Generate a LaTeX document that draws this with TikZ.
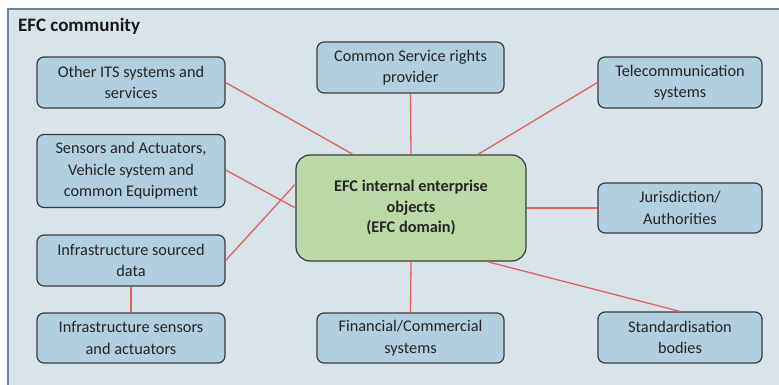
\documentclass[tikz,border=0pt]{standalone}
\usepackage{fontspec}
\setmainfont{Carlito}
\definecolor{bgc}{HTML}{D8E4EA}
\definecolor{boxc}{HTML}{B2CEDF}
\definecolor{ctrc}{HTML}{BBD8A6}
\definecolor{edgec}{HTML}{3A3A3A}
\definecolor{linec}{HTML}{E06462}
\definecolor{framec}{HTML}{6E80A6}
\tikzset{
  ext/.style={draw=edgec, line width=1.2pt, fill=boxc, rounded corners=7pt, align=center, inner sep=0pt, font=\fontsize{16.3}{21.5}\selectfont, text=black!85},
  ctr/.style={draw=edgec, line width=1.2pt, fill=ctrc, rounded corners=14pt, align=center, inner sep=0pt, font=\bfseries\fontsize{16.3}{20.5}\selectfont, text=black!85},
  conn/.style={draw=linec, line width=1.3pt}
}
\begin{document}
\begin{tikzpicture}[x=1pt,y=-1pt]
\useasboundingbox (0,0) rectangle (779,385);
\clip (0,0) rectangle (779,385);
\fill[white] (0,0) rectangle (779,385);
\draw[framec, fill=bgc, line width=1.2pt] (8,9) rectangle (800,400);
\node[anchor=base west, inner sep=0pt, font=\bfseries\fontsize{19}{21}\selectfont, text=black!90] (title) at (18,32) {EFC community};

\node[ctr, minimum width=230pt, minimum height=106pt] (c) at (411,208) {EFC internal enterprise\\objects\\(EFC domain)};

\node[ext, minimum width=188pt, minimum height=51pt] (its) at (131,82.5) {Other ITS systems and\\services};
\node[ext, minimum width=187pt, minimum height=51pt] (csr) at (410.5,67.5) {Common Service rights\\provider};
\node[ext, minimum width=164pt, minimum height=51pt] (tel) at (680,82.5) {Telecommunication\\systems};
\node[ext, minimum width=188pt, minimum height=73pt] (sens) at (131,171) {Sensors and Actuators,\\Vehicle system and\\common Equipment};
\node[ext, minimum width=164pt, minimum height=50pt] (jur) at (680,208) {Jurisdiction/\\Authorities};
\node[ext, minimum width=188pt, minimum height=51pt] (isd) at (131,260.5) {Infrastructure sourced\\data};
\node[ext, minimum width=188pt, minimum height=50pt] (isa) at (131,338) {Infrastructure sensors\\and actuators};
\node[ext, minimum width=187pt, minimum height=50pt] (fin) at (410.5,338) {Financial/Commercial\\systems};
\node[ext, minimum width=164pt, minimum height=51pt] (std) at (680,337.5) {Standardisation\\bodies};

\path[conn] (its.east) -- ([xshift=-58pt]c.north);
\path[conn] (csr.south) -- (c.north);
\path[conn] (tel.west) -- ([xshift=67pt]c.north);
\path[conn] ([yshift=1pt]sens.east) -- (c.west);
\path[conn] (isd.east) -- ([yshift=24pt]c.west);
\path[conn] (jur.west) -- (c.east);
\path[conn] (fin.north) -- (c.south);
\path[conn] (std.north) -- ([xshift=76pt]c.south);
\path[conn] (isd.south) -- (isa.north);
\end{tikzpicture}
\end{document}
